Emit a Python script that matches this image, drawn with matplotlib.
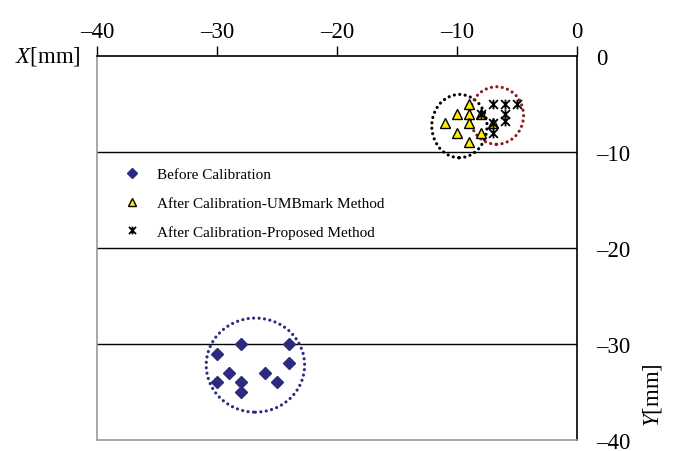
import matplotlib.pyplot as plt
from matplotlib.patches import Ellipse
from matplotlib.path import Path

plt.rcParams['font.family'] = 'Liberation Serif'
plt.rcParams['mathtext.fontset'] = 'custom'
plt.rcParams['mathtext.rm'] = 'Liberation Serif'
plt.rcParams['mathtext.it'] = 'Liberation Serif:italic'

# data (mm)
before_x = [-28, -24, -30, -24, -29, -26, -30, -28, -25, -28]
before_y = [-30, -30, -31, -32, -33, -33, -34, -34, -34, -35]
umb_x = [-9, -10, -9, -11, -9, -10, -8, -9, -8, -7]
umb_y = [-5, -6, -6, -7, -7, -8, -8, -9, -6, -7]
prop_x = [-7, -6, -5, -8, -6, -6, -7, -7]
prop_y = [-5, -5, -5, -6, -6, -6.8, -7, -8]

# dotted circles around each group: (cx, cy, width, height, colour)
circles = [(-26.8, -32.2, 8.2, 9.8, '#2b2b80'),
           (-9.8, -7.3, 4.6, 6.6, 'black'),
           (-6.7, -6.2, 4.5, 6.0, '#8b1c1c')]

xticks = [-40, -30, -20, -10, 0]
yticks = [0, -10, -20, -30, -40]
xlabels = ['\u201340', '\u201330', '\u201320', '\u201310', '0']
ylabels = ['0', '\u201310', '\u201320', '\u201330', '\u201340']

star = Path([(-1, -1), (1, 1), (-1, 1), (1, -1), (0, -1.1), (0, 1.1)],
            [Path.MOVETO, Path.LINETO, Path.MOVETO, Path.LINETO, Path.MOVETO, Path.LINETO])

fig = plt.figure(figsize=(6.73, 4.52), dpi=100)
ax = fig.add_axes([97/673, 11/452, 480/673, 384/452])

for y in [-10, -20, -30]:
    ax.axhline(y, color='black', lw=1.0, zorder=1)

for cx, cy, w, h, c in circles:
    ax.add_patch(Ellipse((cx, cy), w, h, fill=False, edgecolor=c, lw=2.3,
                         linestyle=(0, (0.01, 1.7)), capstyle='round', zorder=2))

ax.plot(before_x, before_y, ls='none', marker='D', ms=6, color='#2b2b80',
        label='Before Calibration', zorder=3)
ax.plot(umb_x, umb_y, ls='none', marker='^', ms=7, mfc='#ffee00', mec='black', mew=1.0,
        label='After Calibration-UMBmark Method', zorder=3)
ax.plot(prop_x, prop_y, ls='none', marker=star, ms=7, mfc='none', mec='black', mew=1.3,
        label='After Calibration-Proposed Method', zorder=4)

ax.set_xlim(-40, 0)
ax.set_ylim(-40, 0)
ax.set_xticks(xticks, xlabels)
ax.set_yticks(yticks, ylabels)
ax.xaxis.tick_top()
ax.yaxis.tick_right()
ax.tick_params(axis='x', direction='out', length=7, width=1, labelsize=16.5, pad=3)
ax.tick_params(axis='y', length=0, labelsize=16.5, pad=14)

ax.spines['top'].set_color('black')
ax.spines['right'].set_color('black')
ax.spines['left'].set_color('#999999')
ax.spines['bottom'].set_color('#999999')
for s in ax.spines.values():
    s.set_linewidth(1.2)

ax.legend(loc='upper left', bbox_to_anchor=(0.02, 0.745), frameon=False, fontsize=11,
          handletextpad=0.9, labelspacing=0.98, handlelength=1.5, markerscale=0.8)

fig.text(15/673, 1 - 57/452, '$X$[mm]', fontsize=16.5, va='center', ha='left')
fig.text(652/673, 1 - 395/452, '$Y$[mm]', fontsize=16.5, va='center', ha='center', rotation=90)

fig.savefig('out.png', dpi=100)
